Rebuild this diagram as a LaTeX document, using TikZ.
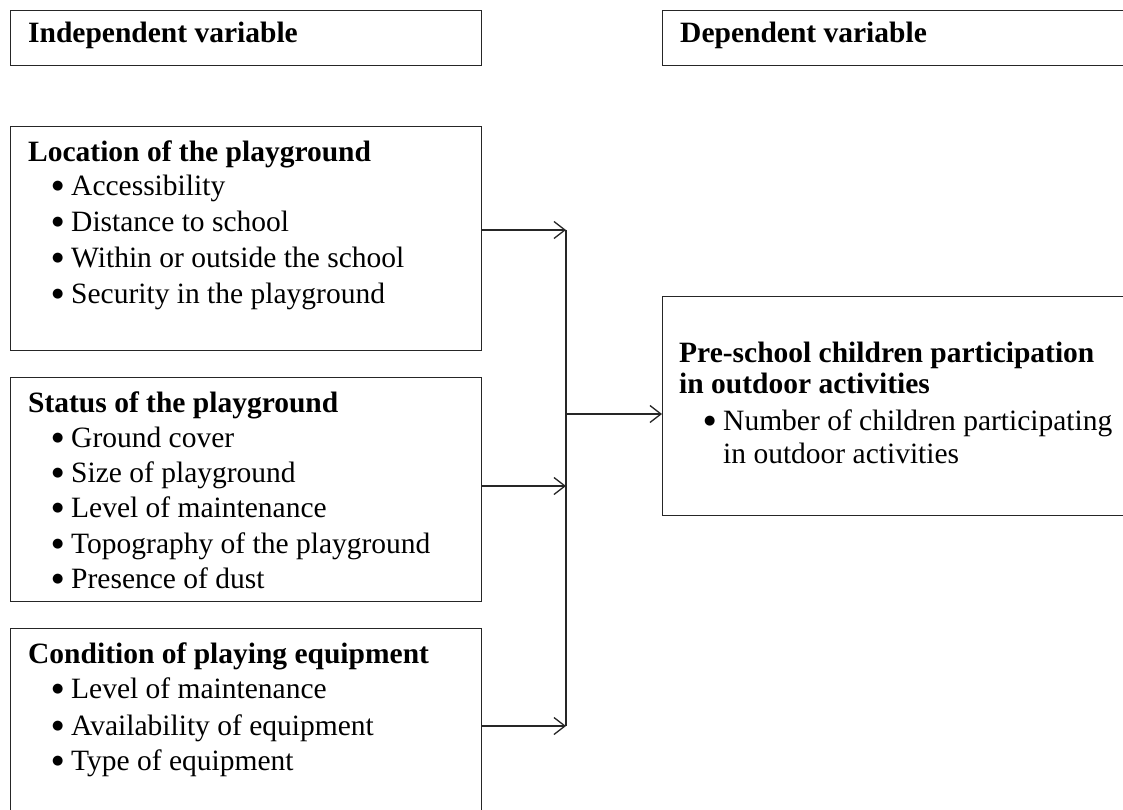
\documentclass[tikz,border=0pt]{standalone}
\usepackage{fontspec}
\usepackage{graphicx}
\setmainfont{Liberation Serif}
\newfontfamily\dvs{DejaVu Sans}
\usetikzlibrary{arrows.meta}
\newcommand\bul{\makebox[19pt][l]{\raisebox{6pt}{\fontsize{13}{13}\dvs ●}}}
\tikzset{
  box/.style={draw=black!85, line width=1.3pt, rectangle, inner sep=0pt, anchor=north west},
  ttl/.style={font=\fontsize{29.5}{34}\selectfont\bfseries, anchor=base west, inner sep=0pt},
  itm/.style={font=\fontsize{29.5}{34}\selectfont, anchor=base west, inner sep=0pt},
  conn/.style={draw=black!85, line width=1.3pt},
  arr/.style={conn, -{Straight Barb[length=11pt,width=17pt,line width=1.3pt]}}
}
\begin{document}
\begin{tikzpicture}[x=1pt,y=-1pt]
\useasboundingbox (0,0) rectangle (1123,810);
\clip (0,0) rectangle (1123,810);
% header boxes
\node[box, minimum width=471pt, minimum height=55pt] (iv) at (10,10) {};
\node[ttl] (ivt) at (28,43) {Independent variable};
\node[box, minimum width=480pt, minimum height=55pt] (dv) at (662,10) {};
\node[ttl] (dvt) at (680,43) {Dependent variable};
% location
\node[box, minimum width=471pt, minimum height=224pt] (loc) at (10,126) {};
\node[ttl] (loct) at (28,162) {Location of the playground};
\node[itm] (loc1) at (52,196) {\bul Accessibility};
\node[itm] (loc2) at (52,232) {\bul Distance to school};
\node[itm] (loc3) at (52,267) {\bul Within or outside the school};
\node[itm] (loc4) at (52,303) {\bul Security in the playground};
% status
\node[box, minimum width=471pt, minimum height=224pt] (sta) at (10,377) {};
\node[ttl] (stat) at (28,412) {Status of the playground};
\node[itm] (sta1) at (52,447) {\bul Ground cover};
\node[itm] (sta2) at (52,482) {\bul Size of playground};
\node[itm] (sta3) at (52,517) {\bul Level of maintenance};
\node[itm] (sta4) at (52,553) {\bul Topography of the playground};
\node[itm] (sta5) at (52,588) {\bul Presence of dust};
% condition
\node[box, minimum width=471pt, minimum height=224pt] (con) at (10,628) {};
\node[ttl] (cont) at (28,663) {Condition of playing equipment};
\node[itm] (con1) at (52,698) {\bul Level of maintenance};
\node[itm] (con2) at (52,735) {\bul Availability of equipment};
\node[itm] (con3) at (52,770) {\bul Type of equipment};
% dependent
\node[box, minimum width=480pt, minimum height=219pt] (dep) at (662,296) {};
\node[ttl] (dept1) at (679,362) {Pre-school children participation};
\node[ttl] (dept2) at (679,393) {in outdoor activities};
\node[itm] (dep1) at (704,430) {\bul Number of children participating};
\node[itm] (dep2) at (723,463) {in outdoor activities};
% connectors
\coordinate (j1) at (566,230);
\coordinate (j2) at (566,486);
\coordinate (j3) at (566,726);
\coordinate (jm) at (566,414);
\draw[arr] (loc.east |- j1) -- (j1);
\draw[arr] (sta.east |- j2) -- (j2);
\draw[arr] (con.east |- j3) -- (j3);
\draw[conn] (j1) -- (j3);
\draw[arr] (jm) -- (dep.west |- jm);
\end{tikzpicture}
\end{document}
